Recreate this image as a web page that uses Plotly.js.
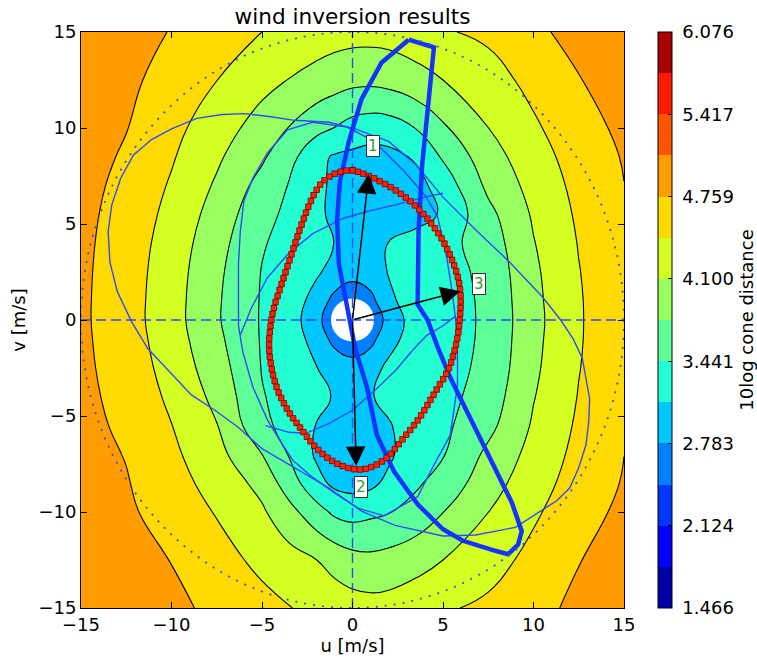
<!DOCTYPE html>
<html>
<head>
<meta charset="utf-8">
<script src="https://cdn.plot.ly/plotly-3.0.1.min.js"></script>
<style>
  html, body { margin: 0; padding: 0; background: #ffffff; }
  #chart { width: 757px; height: 661px; }
</style>
</head>
<body>
<div id="chart"></div>
<script>
// ---------- data ----------
const uGrid = [-15, -12.5, -10, -7.5, -5, -3.5, -2, -1, 0, 1, 2, 3.5, 5, 7.5, 10, 12.5, 15];
const vGrid = [-15, -12.5, -10, -8.5, -7, -5.5, -4, -2.5, -1, 0, 1, 2.5, 4, 5.5, 7, 8.5, 10, 12.5, 15];
// 10log cone distance, one row per v value
const coneDistance = [
  [4.994, 4.918, 4.820, 4.699, 4.532, 4.441, 4.344, 4.287, 4.239, 4.215, 4.226, 4.269, 4.390, 4.495, 4.673, 4.821, 4.937],
  [4.967, 4.860, 4.752, 4.553, 4.351, 4.220, 4.103, 3.987, 3.888, 3.852, 3.887, 3.998, 4.100, 4.297, 4.524, 4.749, 4.878],
  [4.925, 4.808, 4.632, 4.408, 4.145, 3.883, 3.566, 3.383, 3.320, 3.373, 3.426, 3.541, 3.766, 4.098, 4.380, 4.634, 4.827],
  [4.901, 4.779, 4.562, 4.305, 4.006, 3.601, 3.220, 3.043, 2.995, 3.035, 3.194, 3.400, 3.557, 3.965, 4.288, 4.574, 4.780],
  [4.878, 4.745, 4.497, 4.208, 3.772, 3.422, 3.069, 2.933, 2.885, 2.925, 3.052, 3.336, 3.422, 3.844, 4.209, 4.522, 4.757],
  [4.859, 4.695, 4.436, 4.113, 3.520, 3.330, 3.103, 2.967, 2.919, 2.958, 3.085, 3.285, 3.371, 3.680, 4.140, 4.479, 4.735],
  [4.842, 4.652, 4.369, 4.014, 3.460, 3.333, 3.200, 3.090, 2.990, 3.090, 3.200, 3.247, 3.333, 3.590, 4.085, 4.444, 4.710],
  [4.828, 4.614, 4.309, 3.923, 3.429, 3.306, 3.120, 3.020, 2.980, 3.030, 3.160, 3.220, 3.306, 3.530, 4.040, 4.418, 4.690],
  [4.818, 4.585, 4.260, 3.846, 3.415, 3.273, 3.006, 2.678, 2.450, 2.678, 3.030, 3.230, 3.291, 3.505, 4.014, 4.402, 4.680],
  [4.813, 4.570, 4.235, 3.808, 3.412, 3.251, 2.933, 2.450, 1.800, 2.450, 2.933, 3.250, 3.289, 3.500, 4.000, 4.399, 4.680],
  [4.814, 4.573, 4.238, 3.813, 3.415, 3.273, 3.006, 2.678, 2.450, 2.678, 3.060, 3.240, 3.291, 3.505, 4.014, 4.402, 4.680],
  [4.819, 4.585, 4.255, 3.840, 3.429, 3.306, 3.150, 3.020, 2.950, 2.980, 3.125, 3.240, 3.306, 3.530, 4.040, 4.418, 4.690],
  [4.828, 4.605, 4.288, 3.893, 3.468, 3.333, 3.247, 3.107, 3.014, 3.000, 3.120, 3.250, 3.333, 3.590, 4.085, 4.444, 4.710],
  [4.841, 4.636, 4.337, 3.967, 3.545, 3.371, 3.206, 3.021, 2.927, 2.889, 2.905, 2.980, 3.150, 3.680, 4.140, 4.479, 4.735],
  [4.858, 4.675, 4.396, 4.058, 3.660, 3.422, 3.222, 3.031, 2.937, 2.898, 2.915, 3.000, 3.250, 3.844, 4.209, 4.522, 4.755],
  [4.878, 4.723, 4.460, 4.152, 3.818, 3.554, 3.200, 3.080, 3.042, 3.004, 3.020, 3.150, 3.480, 3.965, 4.288, 4.574, 4.780],
  [4.903, 4.769, 4.524, 4.251, 3.965, 3.760, 3.539, 3.435, 3.314, 3.259, 3.283, 3.450, 3.724, 4.098, 4.380, 4.634, 4.827],
  [4.950, 4.823, 4.648, 4.433, 4.203, 4.091, 3.992, 3.920, 3.863, 3.852, 3.887, 3.998, 4.100, 4.297, 4.524, 4.749, 4.878],
  [4.990, 4.885, 4.745, 4.590, 4.429, 4.335, 4.265, 4.235, 4.218, 4.215, 4.226, 4.269, 4.400, 4.495, 4.720, 4.821, 4.937]
];
const levelStart = 1.466;
const levelEnd = 6.076;
const levelCount = 14;
const cbTickVals = [1.466, 2.124, 2.783, 3.441, 4.100, 4.759, 5.417, 6.076];
const cbTickText = ['1.466', '2.124', '2.783', '3.441', '4.100', '4.759', '5.417', '6.076'];
const bandColors = ['#0000a9', '#0000fb', '#0037ff', '#0080ff', '#00c8ff', '#23ffd3', '#5eff99',
                    '#99ff5e', '#d4ff23', '#ffda00', '#ff9c00', '#ff5400', '#ff1a00', '#a90000'];

const axisTicks = [-15, -10, -5, 0, 5, 10, 15];
const uRange = [-15, 15];
const vRange = [-15, 15];
const maxSpeed = 15;          // dotted circle
const maskU = [0];            // masked (white) centre
const maskV = [0];

// thin blue curves
const loopOuterU = [-12.2, -13.0, -13.4, -13.5, -13.3, -12.8, -12.1, -11.1, -10.0, -8.6, -7.2, -6.0, -4.6, -3.2, -1.3, 0.15, 2.0, 3.5, 5.0, 6.8, 8.7, 10.5, 11.5, 12.2, 12.7, 13.1, 13.05, 12.9, 12.5, 12.0, 11.3, 10.5, 9.0, 6.8, 5.0, 2.35, 0.5, -1.3, -3.2, -5.0, -6.3, -7.6, -8.9, -10.2, -11.3, -12.2];
const loopOuterV = [-0.1, 1.5, 3.0, 4.6, 6.0, 7.4, 8.6, 9.4, 9.95, 10.5, 10.7, 10.75, 10.6, 10.4, 10.3, 9.95, 9.3, 8.1, 6.4, 4.7, 3.0, 1.2, 0.0, -1.0, -2.0, -4.1, -5.3, -6.5, -7.7, -8.75, -9.4, -9.9, -10.8, -11.2, -11.25, -10.7, -9.95, -8.75, -7.7, -6.7, -5.6, -4.7, -3.9, -2.6, -1.5, -0.1];
const loopInnerU = [-6.3, -6.3, -6.3, -6.2, -6.0, -5.5, -4.7, -3.6, -2.2, -0.3, 1.2, 2.8, 4.0, 4.7, 5.2, 5.5, 5.7, 5.8, 5.8, 5.4, 4.5, 3.6, 1.75, 0.3, -1.0, -2.2, -3.3, -4.0, -4.7, -5.5, -6.05, -6.3];
const loopInnerV = [-0.3, 1.5, 2.95, 4.6, 6.2, 7.4, 8.7, 9.9, 10.3, 10.05, 9.3, 7.8, 6.5, 5.4, 3.3, 1.5, 0.0, -1.7, -3.4, -6.0, -7.55, -9.2, -10.2, -9.8, -9.0, -8.2, -7.3, -6.3, -5.2, -3.5, -1.7, -0.3];
const trackAU = [-4.8, -3.5, -2.6, -1.3, 0.0, 1.2, 2.4, 3.3, 4.1, 5.0, 5.7];
const trackAV = [-5.5, -5.85, -5.9, -5.4, -4.7, -3.7, -2.6, -1.6, -0.8, -0.3, 0.2];
const trackBU = [-6.2, -5.6, -4.7, -3.6, -2.2, -0.5, 1.0, 2.4, 4.0, 5.0];
const trackBV = [-0.8, 0.6, 2.2, 3.4, 4.5, 5.3, 5.7, 6.0, 6.4, 6.6];

// thick blue polygon
const thickU = [3.1, 1.6, 0.5, -0.2, -0.7, -0.85, -0.75, -0.3, 0.15, 0.8, 1.35, 2.3, 3.6, 5.0, 6.1, 7.8, 8.6, 9.15, 9.35, 8.8, 7.8, 6.7, 5.4, 4.7, 4.15, 3.6, 3.65, 3.85, 4.2, 4.5, 3.1];
const thickV = [14.6, 13.4, 11.5, 9.3, 7.2, 5.2, 2.9, 0.6, -1.5, -3.5, -6.0, -7.9, -9.6, -10.9, -11.5, -12.0, -12.2, -11.7, -11.0, -9.5, -7.6, -5.5, -3.0, -1.4, 0.0, 0.8, 4.6, 8.1, 11.5, 14.2, 14.6];

// red squares (inverted wind locus)
const redU = [0.00, -0.33, -0.66, -0.98, -1.28, -1.55, -1.78, -1.98, -2.15, -2.30, -2.44, -2.57, -2.69, -2.81, -2.93, -3.04, -3.15, -3.26, -3.37, -3.48, -3.59, -3.70, -3.81, -3.92, -4.03, -4.14, -4.25, -4.34, -4.42, -4.48,
  -4.53, -4.57, -4.60, -4.61, -4.60, -4.57, -4.52, -4.46, -4.39, -4.30, -4.20, -4.08, -3.94, -3.79, -3.63, -3.46, -3.28, -3.09, -2.90, -2.71, -2.52, -2.32, -2.11, -1.89, -1.65, -1.39, -1.12, -0.84, -0.54, -0.23, 0.09, 0.41,
  0.73, 1.04, 1.34, 1.62, 1.88, 2.12, 2.34, 2.55, 2.76, 2.97, 3.19, 3.40, 3.60, 3.79, 3.97, 4.14, 4.31, 4.48, 4.65, 4.83, 5.01, 5.18, 5.33, 5.45, 5.55, 5.64, 5.72, 5.79, 5.85, 5.89, 5.92,
  5.95, 5.97, 5.98, 5.97, 5.94, 5.89, 5.82, 5.73, 5.62, 5.50, 5.37, 5.23, 5.08, 4.92, 4.74, 4.55, 4.35, 4.14, 3.92, 3.69, 3.45, 3.20, 2.94, 2.67, 2.39, 2.10, 1.80, 1.50, 1.20, 0.90, 0.60, 0.30, 0.00];
const redV = [7.80, 7.78, 7.72, 7.62, 7.47, 7.28, 7.05, 6.78, 6.50, 6.20, 5.90, 5.59, 5.28, 4.97, 4.66, 4.35, 4.04, 3.73, 3.42, 3.11, 2.80, 2.49, 2.18, 1.87, 1.56, 1.25, 0.94, 0.63, 0.32, 0.00,
  -0.32, -0.64, -0.96, -1.28, -1.60, -1.92, -2.24, -2.56, -2.87, -3.18, -3.48, -3.78, -4.06, -4.34, -4.61, -4.87, -5.12, -5.36, -5.60, -5.84, -6.08, -6.32, -6.55, -6.77, -6.98, -7.17, -7.34, -7.49, -7.61, -7.71, -7.77, -7.79,
  -7.75, -7.66, -7.53, -7.37, -7.18, -6.96, -6.72, -6.47, -6.22, -5.97, -5.73, -5.48, -5.23, -4.97, -4.70, -4.43, -4.16, -3.89, -3.62, -3.35, -3.08, -2.80, -2.51, -2.21, -1.90, -1.59, -1.28, -0.96, -0.64, -0.32, 0.00,
  0.32, 0.64, 0.96, 1.28, 1.60, 1.92, 2.23, 2.54, 2.84, 3.13, 3.42, 3.70, 3.98, 4.25, 4.52, 4.78, 5.03, 5.28, 5.52, 5.75, 5.97, 6.18, 6.38, 6.57, 6.75, 6.92, 7.08, 7.23, 7.38, 7.50, 7.62, 7.72, 7.80];

// arrows and numbered labels
const arrowTailU = [0, 0, 0];
const arrowTailV = [0, 0, 0];
const arrowTipU = [0.9, 0.2, 5.95];
const arrowTipV = [7.6, -7.6, 1.5];
const labelText = ['1', '2', '3'];
const labelU = [1.15, 0.45, 7.0];
const labelV = [9.05, -8.7, 1.9];

// ---------- build ----------
const FONT = 'DejaVu Sans, Arial, sans-serif';
const levelSize = (levelEnd - levelStart) / levelCount - 0.00001;

// colours of the filled contour bands (sampled by plotly at band middles)
const nSteps = levelCount + 1;
const fillScale = [[0, bandColors[0]]];
bandColors.forEach((c, k) => fillScale.push([(k + 1) / nSteps, c]));
fillScale.push([1, bandColors[bandColors.length - 1]]);

// stepped scale for the colour bar
const barScale = [];
bandColors.forEach((c, k) => {
  barScale.push([k / levelCount, c]);
  barScale.push([(k + 1) / levelCount, c]);
});

const thinLine = {color: '#2f4cf2', width: 1.4};

const traces = [
  {
    type: 'contour', x: uGrid, y: vGrid, z: coneDistance,
    autocontour: false,
    contours: {start: levelStart, end: levelEnd, size: levelSize, coloring: 'fill', showlines: true},
    line: {color: '#000000', width: 1.1, smoothing: 1.3},
    colorscale: fillScale,
    showscale: false,
    hoverinfo: 'skip'
  },
  {type: 'scatter', mode: 'markers', x: maskU, y: maskV, hoverinfo: 'skip', showlegend: false,
   marker: {symbol: 'circle', size: 43, color: '#ffffff', line: {width: 0}}},
  // invisible carrier of the colour bar
  {type: 'scatter', mode: 'markers', x: maskU, y: maskV, hoverinfo: 'skip', showlegend: false,
   marker: {size: 1, opacity: 0, color: [levelStart], cmin: levelStart, cmax: levelEnd,
     colorscale: barScale, showscale: true,
     colorbar: {
       x: (658 - 81) / 543, xanchor: 'left', xpad: 0, ypad: 0,
       y: 0.5, yanchor: 'middle', len: 1, lenmode: 'fraction',
       thickness: 14, outlinecolor: '#000', outlinewidth: 1,
       tickmode: 'array', tickvals: cbTickVals,
       ticktext: cbTickText.map(t => '\u00a0' + t),
       ticks: 'inside', ticklen: 4, tickcolor: '#000',
       tickfont: {family: FONT, size: 18, color: '#000'},
       title: {text: '10log cone distance', side: 'right', font: {family: FONT, size: 18, color: '#000'}}
     }}},
  {type: 'scatter', mode: 'lines', x: [0, 0], y: vRange, hoverinfo: 'skip', showlegend: false,
   line: {color: '#2f4cf2', width: 1.4, dash: '10px,5px'}},
  {type: 'scatter', mode: 'lines', x: uRange, y: [0, 0], hoverinfo: 'skip', showlegend: false,
   line: {color: '#2f4cf2', width: 1.4, dash: '10px,5px'}},
  {type: 'scatter', mode: 'lines', x: loopOuterU, y: loopOuterV, line: thinLine, hoverinfo: 'skip', showlegend: false},
  {type: 'scatter', mode: 'lines', x: loopInnerU, y: loopInnerV, line: thinLine, hoverinfo: 'skip', showlegend: false},
  {type: 'scatter', mode: 'lines', x: trackAU, y: trackAV, line: thinLine, hoverinfo: 'skip', showlegend: false},
  {type: 'scatter', mode: 'lines', x: trackBU, y: trackBV, line: thinLine, hoverinfo: 'skip', showlegend: false},
  {type: 'scatter', mode: 'lines', x: thickU, y: thickV, hoverinfo: 'skip', showlegend: false,
   line: {color: '#1433ff', width: 4.5}},
  {type: 'scatter', mode: 'lines+markers', x: redU, y: redV, hoverinfo: 'skip', showlegend: false,
   line: {color: '#e01000', width: 1},
   marker: {symbol: 'square', size: 5.5, color: '#ff2200', line: {color: '#7a0000', width: 0.8}}}
];

const annotations = [];
arrowTipU.forEach((u, i) => {
  annotations.push({
    x: u, y: arrowTipV[i], xref: 'x', yref: 'y',
    ax: arrowTailU[i], ay: arrowTailV[i], axref: 'x', ayref: 'y',
    text: '', showarrow: true, arrowhead: 2, arrowsize: 2.6, arrowwidth: 1.5,
    arrowcolor: '#000000', standoff: 0, startstandoff: 0
  });
});
labelText.forEach((t, i) => {
  annotations.push({
    x: labelU[i], y: labelV[i], xref: 'x', yref: 'y', text: t, showarrow: false,
    font: {family: FONT, size: 15, color: '#2e9a2e'},
    bgcolor: '#ffffff', bordercolor: '#333333', borderwidth: 1, borderpad: 1
  });
});

const axisCommon = {
  tickvals: axisTicks, ticks: 'inside', ticklen: 6, tickcolor: '#000',
  mirror: 'allticks', showline: true, linecolor: '#000', linewidth: 1,
  showgrid: false, zeroline: false,
  tickfont: {family: FONT, size: 18, color: '#000'}
};

const layout = {
  width: 757, height: 661,
  margin: {l: 81, r: 133, t: 32, b: 53, autoexpand: false},
  paper_bgcolor: '#ffffff', plot_bgcolor: '#ffffff',
  font: {family: FONT, color: '#000'},
  title: {text: 'wind inversion results', font: {family: FONT, size: 21.6, color: '#000'},
          xref: 'paper', x: 0.5, xanchor: 'center', yref: 'container', y: 1 - 16 / 661, yanchor: 'middle'},
  xaxis: Object.assign({}, axisCommon, {range: uRange,
          title: {text: 'u [m/s]', font: {family: FONT, size: 18, color: '#000'}, standoff: 4}}),
  yaxis: Object.assign({}, axisCommon, {range: vRange,
          title: {text: 'v [m/s]', font: {family: FONT, size: 18, color: '#000'}, standoff: 8}}),
  shapes: [
    {type: 'circle', xref: 'x', yref: 'y', x0: -maxSpeed, x1: maxSpeed, y0: -maxSpeed, y1: maxSpeed,
     line: {color: '#3f55d6', width: 1.8, dash: '2px,7px'}, layer: 'above'}
  ],
  annotations: annotations,
  showlegend: false
};

Plotly.newPlot('chart', traces, layout, {displayModeBar: false, staticPlot: true});
</script>
</body>
</html>
